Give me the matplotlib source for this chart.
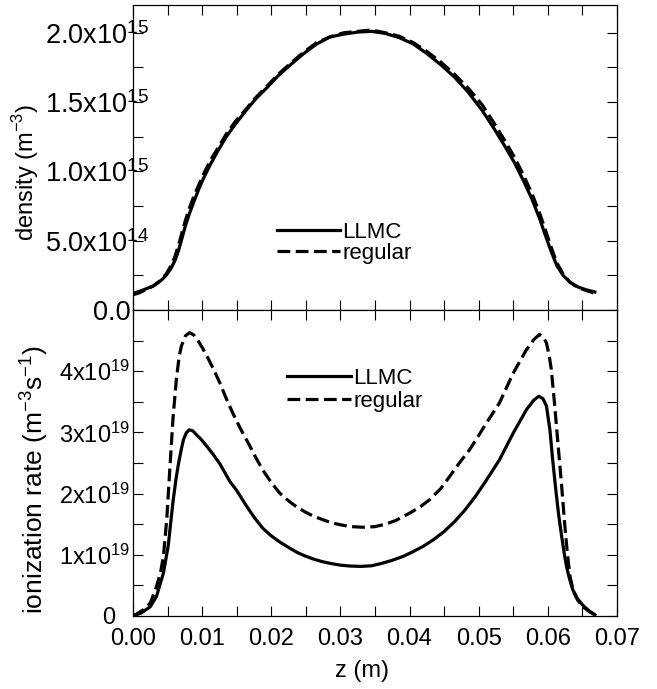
import matplotlib
matplotlib.use('Agg')
import matplotlib.pyplot as plt
import matplotlib.ticker as mticker
import matplotlib.transforms as mtransforms

plt.rcParams['font.family'] = ['Liberation Sans', 'DejaVu Sans']
plt.rcParams['font.size'] = 17

# density profile (m^-3), values in units of 1e15
z_den = [0, 0.0010, 0.0020, 0.0030, 0.0040, 0.0048, 0.0055, 0.0061, 0.0066, 0.0071,
         0.0076, 0.0082, 0.0088, 0.0095, 0.0102, 0.0112, 0.0123, 0.0135, 0.0148, 0.0162,
         0.0177, 0.0193, 0.0210, 0.0228, 0.0247, 0.0266, 0.0285, 0.0305, 0.0325, 0.0345,
         0.0365, 0.0385, 0.0405, 0.0425, 0.0445, 0.0465, 0.0485, 0.0505, 0.0522, 0.0538,
         0.0552, 0.0565, 0.0577, 0.0588, 0.0597, 0.0605, 0.0613, 0.0622, 0.0632, 0.0644,
         0.0656, 0.0668]
llmc_den = [0.12, 0.135, 0.155, 0.175, 0.21, 0.25, 0.30, 0.36, 0.43, 0.52,
            0.61, 0.70, 0.78, 0.87, 0.95, 1.05, 1.15, 1.25, 1.34, 1.43,
            1.52, 1.60, 1.69, 1.77, 1.85, 1.92, 1.97, 1.99, 2.005, 2.01,
            1.995, 1.965, 1.92, 1.85, 1.77, 1.68, 1.57, 1.44, 1.31, 1.18,
            1.06, 0.93, 0.80, 0.66, 0.53, 0.42, 0.32, 0.25, 0.20, 0.165,
            0.145, 0.13]
reg_den = [0.11, 0.125, 0.15, 0.175, 0.215, 0.26, 0.32, 0.39, 0.47, 0.56,
           0.65, 0.74, 0.82, 0.90, 0.98, 1.08, 1.17, 1.27, 1.36, 1.44,
           1.53, 1.61, 1.70, 1.78, 1.86, 1.93, 1.97, 2.00, 2.01, 2.02,
           2.00, 1.975, 1.93, 1.865, 1.79, 1.70, 1.60, 1.48, 1.35, 1.22,
           1.10, 0.97, 0.84, 0.70, 0.57, 0.45, 0.34, 0.26, 0.20, 0.16,
           0.14, 0.12]

# ionization rate (m^-3 s^-1), values in units of 1e19
z_llmc = [0, 0.0012, 0.0025, 0.0034, 0.0044, 0.0051, 0.0058, 0.0062, 0.0066, 0.0070,
          0.0073, 0.0077, 0.0081, 0.0086, 0.0092, 0.0099, 0.0107, 0.0116, 0.0126, 0.0140,
          0.0150, 0.0164, 0.0176, 0.0188, 0.0200, 0.0212, 0.0225, 0.0237, 0.0249, 0.0261,
          0.0273, 0.0285, 0.0300, 0.0315, 0.0330, 0.0345, 0.0360, 0.0375, 0.0390, 0.0405,
          0.0420, 0.0435, 0.0450, 0.0465, 0.0480, 0.0495, 0.0510, 0.0530, 0.0550, 0.0569,
          0.0580, 0.0587, 0.0593, 0.0598, 0.0603, 0.0607, 0.0612, 0.0616, 0.0620, 0.0624,
          0.0627, 0.0631, 0.0636, 0.0643, 0.0651, 0.0660, 0.0668]
llmc_ion = [0, 0.05, 0.15, 0.32, 0.70, 1.15, 1.88, 2.22, 2.50, 2.73,
            2.88, 2.99, 3.04, 3.03, 2.96, 2.88, 2.77, 2.64, 2.48, 2.20,
            2.05, 1.80, 1.60, 1.43, 1.31, 1.21, 1.12, 1.04, 0.98, 0.93,
            0.89, 0.86, 0.83, 0.815, 0.81, 0.82, 0.86, 0.91, 0.97, 1.05,
            1.14, 1.25, 1.38, 1.54, 1.73, 1.95, 2.20, 2.55, 2.99, 3.37,
            3.53, 3.59, 3.55, 3.43, 3.04, 2.55, 2.01, 1.62, 1.30, 1.00,
            0.81, 0.62, 0.43, 0.28, 0.17, 0.08, 0.02]
z_reg = [0, 0.0005, 0.0015, 0.0025, 0.0034, 0.0040, 0.0044, 0.0049, 0.0053, 0.0058,
         0.0063, 0.0067, 0.0070, 0.0076, 0.0082, 0.0088, 0.0094, 0.0101, 0.0109, 0.0117,
         0.0126, 0.0135, 0.0145, 0.0155, 0.0167, 0.0178, 0.0188, 0.0200, 0.0212, 0.0225,
         0.0237, 0.0249, 0.0261, 0.0273, 0.0285, 0.0300, 0.0315, 0.0333, 0.0350, 0.0365,
         0.0380, 0.0400, 0.0415, 0.0429, 0.0445, 0.0458, 0.0472, 0.0487, 0.0500, 0.0511,
         0.0530, 0.0550, 0.0569, 0.0580, 0.0588, 0.0594, 0.0598, 0.0602, 0.0605, 0.0610,
         0.0615, 0.0620, 0.0624, 0.0628, 0.0632, 0.0637, 0.0643, 0.0651, 0.0660, 0.0668]
reg_ion = [0, 0.03, 0.10, 0.21, 0.48, 0.72, 0.97, 1.60, 2.35, 3.25,
           3.90, 4.25, 4.41, 4.58, 4.63, 4.59, 4.50, 4.37, 4.20, 4.02,
           3.80, 3.55, 3.30, 3.07, 2.82, 2.58, 2.38, 2.18, 2.01, 1.88,
           1.78, 1.70, 1.63, 1.58, 1.53, 1.49, 1.46, 1.45, 1.46, 1.50,
           1.56, 1.68, 1.78, 1.90, 2.08, 2.28, 2.50, 2.72, 2.95, 3.15,
           3.48, 3.97, 4.35, 4.52, 4.60, 4.55, 4.46, 4.25, 4.03, 3.43,
           2.77, 2.12, 1.55, 1.05, 0.65, 0.40, 0.26, 0.15, 0.07, 0.02]

labels = ['LLMC', 'regular']
dash = (4, 1.7)
lw = 2.3

fig = plt.figure(figsize=(6.57, 6.89), dpi=100)
ax1 = fig.add_axes([0.2024, 0.5501, 0.7367, 0.4426])
ax2 = fig.add_axes([0.2024, 0.1060, 0.7367, 0.4441])

ax1.plot(z_den, [v * 1e15 for v in llmc_den], color='black', lw=lw, label=labels[0])
ax1.plot(z_den, [v * 1e15 for v in reg_den], color='black', lw=lw, dashes=dash, label=labels[1])
ax2.plot(z_llmc, [v * 1e19 for v in llmc_ion], color='black', lw=lw, label=labels[0])
ax2.plot(z_reg, [v * 1e19 for v in reg_ion], color='black', lw=lw, dashes=dash, label=labels[1])


def den_fmt(v, pos):
    if v == 0:
        return '0.0'
    e = int(f'{v:.1e}'.split('e')[1])
    return r'$\mathregular{%.1fx10^{%d}}$' % (v / 10 ** e, e)


def ion_fmt(v, pos):
    if v == 0:
        return '0'
    return r'$\mathregular{%dx10^{19}}$' % round(v / 1e19)


for ax in (ax1, ax2):
    ax.set_xlim(0, 0.07)
    ax.xaxis.set_major_locator(mticker.MultipleLocator(0.01))
    ax.xaxis.set_minor_locator(mticker.MultipleLocator(0.005))
    ax.tick_params(which='both', direction='in', top=True, right=True, length=7, width=0.8)
    for s in ax.spines.values():
        s.set_linewidth(0.9)

ax1.set_ylim(0, 2.2e15)
ax1.yaxis.set_major_locator(mticker.FixedLocator([0, 0.5e15, 1.0e15, 1.5e15, 2.0e15]))
ax1.yaxis.set_minor_locator(mticker.FixedLocator([0.25e15, 0.75e15, 1.25e15, 1.75e15]))
ax1.yaxis.set_major_formatter(mticker.FuncFormatter(den_fmt))
ax1.tick_params(axis='x', labelbottom=False)
ax1.tick_params(axis='y', pad=1.5, labelsize=19.5)

ax2.set_ylim(0, 5e19)
ax2.yaxis.set_major_locator(mticker.FixedLocator([0, 1e19, 2e19, 3e19, 4e19]))
ax2.yaxis.set_minor_locator(mticker.FixedLocator([0.5e19, 1.5e19, 2.5e19, 3.5e19, 4.5e19]))
ax2.yaxis.set_major_formatter(mticker.FuncFormatter(ion_fmt))
ax2.xaxis.set_major_formatter(mticker.FormatStrFormatter('%.2f'))
ax2.tick_params(axis='y', pad=13, labelsize=17)
ax2.tick_params(axis='x', pad=8.5, labelsize=17)

ax1.set_ylabel(r'density (m$^{\mathregular{-3}}$)', fontsize=17)
ax1.yaxis.set_label_coords(-0.19, 0.452)
ax2.set_ylabel(r'ionization rate (m$^{\mathregular{-3}}$s$^{\mathregular{-1}}$)', fontsize=19)
ax2.yaxis.set_label_coords(-0.172, 0.445)
ax2.set_xlabel('z (m)', fontsize=17)
ax2.xaxis.set_label_coords(0.473, -0.144)

ax1.legend(loc='center left', bbox_to_anchor=(0.2975, 0.22), frameon=False,
           handlelength=2.85, handletextpad=0.1, labelspacing=0.0,
           borderpad=0, borderaxespad=0, fontsize=16)
ax2.legend(loc='center left', bbox_to_anchor=(0.318, 0.739), frameon=False,
           handlelength=2.9, handletextpad=0.1, labelspacing=0.1,
           borderpad=0, borderaxespad=0, fontsize=16)

# let the exponent stick out past the axis like the original
fig.canvas.draw()
for ax, shift in ((ax1, 18), (ax2, 15)):
    for lab in ax.get_yticklabels():
        if 'x10' in lab.get_text():
            lab.set_transform(lab.get_transform() + mtransforms.Affine2D().translate(shift, 0))

fig.savefig('out.png', dpi=100)
